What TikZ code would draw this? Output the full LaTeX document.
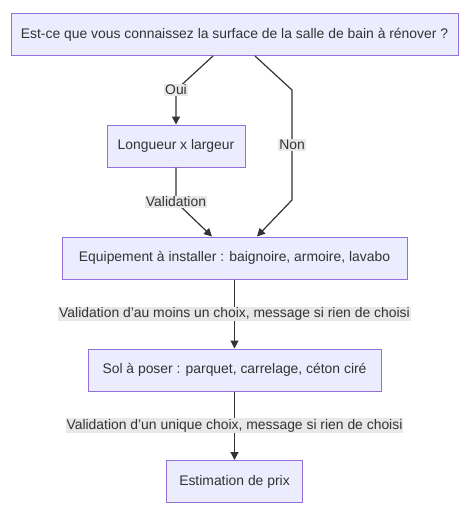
\documentclass[tikz,border=0pt]{standalone}
\usepackage{fontspec}
\setmainfont{Liberation Sans}
\usetikzlibrary{arrows.meta}
\definecolor{boxfill}{HTML}{ECECFF}
\definecolor{boxborder}{HTML}{9370DB}
\definecolor{fleche}{HTML}{333333}
\definecolor{etiqfond}{HTML}{E8E8E8}
\definecolor{texte}{HTML}{333333}

\begin{document}
\begin{tikzpicture}[
        x=1pt, y=-1pt, % un pixel de la capture = 1pt
        font=\fontsize{13.9}{16}\selectfont,
        % --- Styles ---
        etape/.style={draw=boxborder, fill=boxfill, text=texte, line width=1pt, minimum height=42pt},
        lien/.style={draw=fleche, line width=1.2pt, -{Triangle[length=8pt, width=8pt]}},
        etiq/.style={fill=etiqfond, text=texte, inner sep=1pt},
    ]
        \useasboundingbox (0,0) rectangle (469,514);

        % --- Etapes ---
        \node[etape, minimum width=447pt] (surface) at (234.5,34.5) {Est-ce que vous connaissez la surface de la salle de bain à rénover ?};
        \node[etape, minimum width=138pt] (longueur) at (176,146) {Longueur x largeur};
        \node[etape, minimum width=345pt] (equip) at (234.5,258) {Equipement à installer : baignoire, armoire, lavabo};
        \node[etape, minimum width=293pt] (sol) at (234.5,370) {Sol à poser : parquet, carrelage, céton ciré};
        \node[etape, minimum width=136pt] (prix) at (234.5,481.5) {Estimation de prix};

        % --- Points de passage ---
        \coordinate (oui) at (176,90);
        \coordinate (nonA) at (292,90);
        \coordinate (nonB) at (292,200);
        \coordinate (valid) at (176,202);

        % --- Liens ---
        \draw[lien] ([xshift=-21.5pt]surface.south) -- (oui) node[etiq] {Oui} -- (longueur.north);
        \draw[lien] ([xshift=20.5pt]surface.south) -- (nonA) -- node[etiq] {Non} (nonB) -- ([xshift=22.5pt]equip.north);
        \draw[lien] (longueur.south) -- (valid) node[etiq] {Validation} -- ([xshift=-22.5pt]equip.north);
        \draw[lien] (equip) -- node[etiq] {Validation d'au moins un choix, message si rien de choisi} (sol);
        \draw[lien] (sol) -- node[etiq] {Validation d'un unique choix, message si rien de choisi} (prix);

    \end{tikzpicture}
\end{document}
